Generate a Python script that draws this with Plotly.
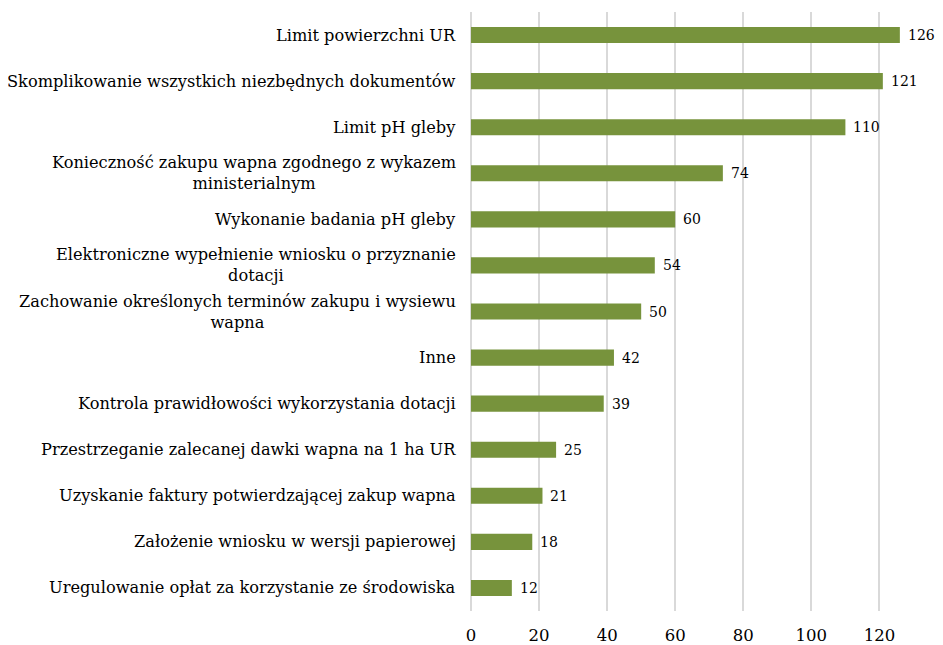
import plotly.graph_objects as go

categories = [
    "Limit powierzchni UR",
    "Skomplikowanie wszystkich niezbędnych dokumentów",
    "Limit pH gleby",
    "Konieczność zakupu wapna zgodnego z wykazem<br>ministerialnym",
    "Wykonanie badania pH gleby",
    "Elektroniczne wypełnienie wniosku o przyznanie<br>dotacji",
    "Zachowanie określonych terminów zakupu i wysiewu<br>wapna",
    "Inne",
    "Kontrola prawidłowości wykorzystania dotacji",
    "Przestrzeganie zalecanej dawki wapna na 1 ha UR",
    "Uzyskanie faktury potwierdzającej zakup wapna",
    "Założenie wniosku w wersji papierowej",
    "Uregulowanie opłat za korzystanie ze środowiska",
]
values = [126, 121, 110, 74, 60, 54, 50, 42, 39, 25, 21, 18, 12]
x_ticks = [0, 20, 40, 60, 80, 100, 120]

FONT = "DejaVu Serif"
ids = list(range(len(categories)))

fig = go.Figure(go.Bar(
    x=values, y=ids, orientation="h",
    marker=dict(color="#77933C", line=dict(width=0)),
    width=0.35, hoverinfo="skip",
))

annotations = []
for i, (c, v) in enumerate(zip(categories, values)):
    annotations.append(dict(
        x=0, xref="paper", y=i, yref="y", text=c, showarrow=False,
        xanchor="right", yanchor="middle", align="center", xshift=-13,
        font=dict(family=FONT, size=16.2, color="#000000"),
    ))
    annotations.append(dict(
        x=v, xref="x", y=i, yref="y", text=str(v), showarrow=False,
        xanchor="left", yanchor="middle", xshift=6,
        font=dict(family=FONT, size=14, color="#000000"),
    ))

fig.update_layout(
    width=935, height=637,
    margin=dict(l=463, r=4, t=4, b=34, autoexpand=False),
    paper_bgcolor="white", plot_bgcolor="white",
    showlegend=False,
    annotations=annotations,
    xaxis=dict(
        range=[0, 137.5], tickvals=x_ticks, ticktext=[str(t) for t in x_ticks],
        showgrid=True, gridcolor="#D9D9D9", gridwidth=2,
        zeroline=True, zerolinecolor="#D9D9D9", zerolinewidth=2,
        showline=False, ticks="", ticklabelstandoff=12,
        tickfont=dict(family=FONT, size=16.5, color="#000000"),
    ),
    yaxis=dict(
        range=[12.5, -0.5], showticklabels=False, showgrid=False,
        zeroline=False, showline=False, ticks="",
    ),
)

fig.write_html("out.html")
